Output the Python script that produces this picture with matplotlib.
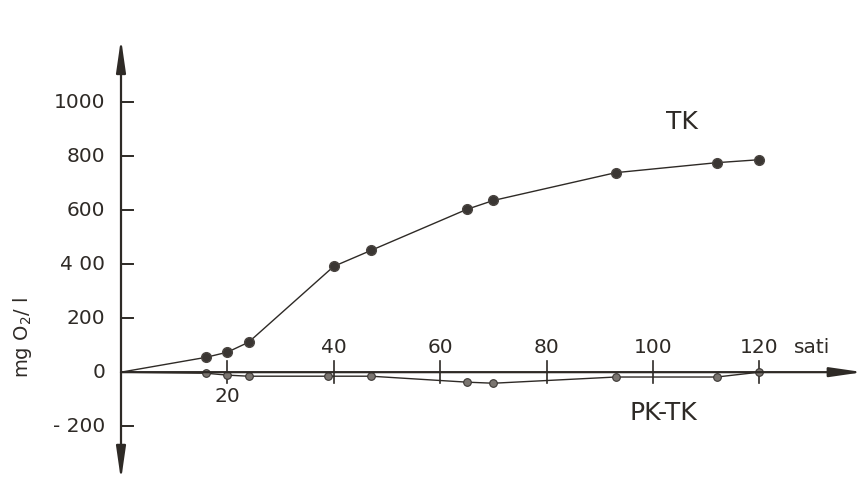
import matplotlib.pyplot as plt

# hours
tk_hours = [0, 16, 20, 24, 40, 47, 65, 70, 93, 112, 120]
tk_values = [0, 55, 74, 111, 392, 451, 603, 636, 739, 776, 787]

pktk_hours = [0, 16, 20, 24, 39, 47, 65, 70, 93, 112, 120]
pktk_values = [0, -4, -11, -15, -15, -15, -37, -41, -18, -18, 0]

y_ticks = [-200, 0, 200, 400, 600, 800, 1000]
y_labels = ["- 200", "0", "200", "4 00", "600", "800", "1000"]
x_ticks = [20, 40, 60, 80, 100, 120]

ink = "#2e2a26"
plt.rcParams["font.family"] = "DejaVu Sans"

fig = plt.figure(figsize=(8.63, 4.88), dpi=100)
ax = fig.add_axes([121 / 863, 3 / 488, 742 / 863, 450 / 488])
ax.set_xlim(0, 139.5)
ax.set_ylim(-418, 1249)
ax.axis("off")

arrow = dict(arrowstyle="-|>,head_length=0.9,head_width=0.13", color=ink, lw=1.6,
             mutation_scale=22, shrinkA=0, shrinkB=0)
ax.annotate("", xy=(139.5, 0), xytext=(0, 0), arrowprops=arrow)
ax.annotate("", xy=(0, 1235), xytext=(0, 0), arrowprops=arrow)
ax.annotate("", xy=(0, -400), xytext=(0, 0), arrowprops=arrow)

# y ticks
for v, lab in zip(y_ticks, y_labels):
    ax.plot([0, 2.2], [v, v], color=ink, lw=1.4)
    ax.text(-3.0, v, lab, ha="right", va="center", fontsize=14.5, color=ink)

# x ticks crossing the axis
for v in x_ticks:
    ax.plot([v, v], [-40, 40], color=ink, lw=1.2)
    if v == 20:
        ax.text(v, -55, str(v), ha="center", va="top", fontsize=14.5, color=ink)
    else:
        ax.text(v, 55, str(v), ha="center", va="bottom", fontsize=14.5, color=ink)
ax.text(126.5, 55, "sati", ha="left", va="bottom", fontsize=14.5, color=ink)

# series
ax.plot(tk_hours, tk_values, color=ink, lw=1.0)
ax.plot(tk_hours[1:], tk_values[1:], "o", color="#3a3633", ms=7, mec="#4a4541")
ax.plot(pktk_hours, pktk_values, color=ink, lw=1.0)
ax.plot(pktk_hours[1:], pktk_values[1:], "o", color="#7a7570", ms=5.5, mec="#3a3633", mew=0.8)

ax.text(105.5, 925, "TK", ha="center", va="center", fontsize=18, color=ink)
ax.text(102, -150, "PK-TK", ha="center", va="center", fontsize=18, color=ink)

fig.text(22 / 863, 1 - 338 / 488, r"mg O$_2$/ l", rotation=90, ha="center", va="center",
         fontsize=14, color=ink)

fig.savefig("out.png", dpi=100)
